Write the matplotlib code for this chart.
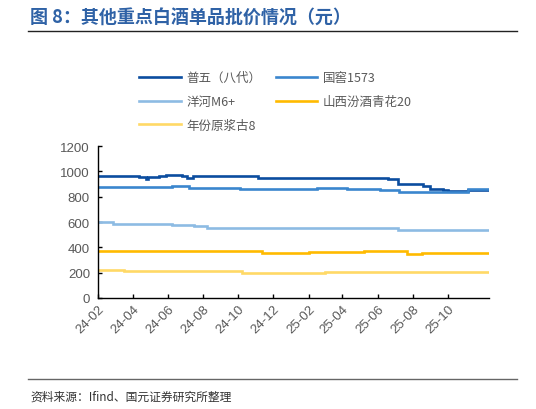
import numpy as np
import pandas as pd
import matplotlib
matplotlib.use('Agg')
import matplotlib.pyplot as plt
import matplotlib.dates as mdates
from matplotlib.lines import Line2D

plt.rcParams['font.family'] = ['Liberation Sans', 'Noto Sans CJK SC', 'DejaVu Sans']

# change points of each weekly price series (yuan)
wuliangye_dates = ['2024-02-01', '2024-04-12', '2024-04-24', '2024-04-28', '2024-05-17',
                   '2024-05-29', '2024-06-26', '2024-07-05', '2024-07-14', '2024-11-05',
                   '2025-06-19', '2025-07-06', '2025-08-19', '2025-09-01', '2025-09-23',
                   '2025-10-01', '2025-11-05', '2025-12-12']
wuliangye = [962, 953, 940, 955, 960, 973, 965, 948, 960, 950,
             940, 902, 882, 860, 852, 847, 852, 852]

guojiao_dates = ['2024-02-01', '2024-06-09', '2024-07-08', '2024-08-08', '2024-10-04',
                 '2025-02-16', '2025-04-08', '2025-06-05', '2025-07-09', '2025-10-23',
                 '2025-11-05', '2025-12-12']
guojiao = [874, 881, 870, 865, 857, 867, 857, 850, 835, 833, 857, 857]

yanghe_dates = ['2024-02-01', '2024-02-26', '2024-06-09', '2024-07-17', '2024-08-08',
                '2025-07-06', '2025-12-12']
yanghe = [600, 588, 573, 566, 550, 540, 540]

fenjiu_dates = ['2024-02-01', '2024-11-12', '2025-02-01', '2025-05-09', '2025-07-23',
                '2025-08-17', '2025-12-02', '2025-12-12']
fenjiu = [374, 357, 367, 372, 347, 358, 355, 355]

gujing_dates = ['2024-02-01', '2024-03-16', '2024-10-08', '2024-11-17', '2025-03-01',
                '2025-12-12']
gujing = [225, 215, 199, 195, 208, 208]

labels = ['普五（八代）', '国窖1573', '洋河M6+', '山西汾酒青花20', '年份原浆古8']
colors = ['#0B4D9F', '#3A86CE', '#8DBBE3', '#FFBA00', '#FFD966']
y_ticks = [0, 200, 400, 600, 800, 1000, 1200]
x_ticks = ['2024-02-01', '2024-04-01', '2024-06-01', '2024-08-01', '2024-10-01',
           '2024-12-01', '2025-02-01', '2025-04-01', '2025-06-01', '2025-08-01',
           '2025-10-01']

series = [(wuliangye_dates, wuliangye), (guojiao_dates, guojiao), (yanghe_dates, yanghe),
          (fenjiu_dates, fenjiu), (gujing_dates, gujing)]

fig = plt.figure(figsize=(5.36, 4.10), dpi=100)
ax = fig.add_axes([98.3 / 536, 1 - 299 / 410, (489 - 98.3) / 536, (299 - 147) / 410])

handles = []
for (d, v), lab, c in zip(series, labels, colors):
    h, = ax.plot(pd.to_datetime(d), v, drawstyle='steps-post', color=c, lw=1.9,
                 solid_joinstyle='miter', label=lab)
    handles.append(h)

ax.set_xlim(pd.Timestamp('2024-02-01'), pd.Timestamp('2025-12-12'))
ax.set_ylim(0, 1200)
ax.set_yticks(y_ticks)
ax.set_xticks(pd.to_datetime(x_ticks))
ax.xaxis.set_major_formatter(mdates.DateFormatter('%y-%m'))

for s in ['top', 'right']:
    ax.spines[s].set_visible(False)
for s in ['left', 'bottom']:
    ax.spines[s].set_linewidth(1.0)
    ax.spines[s].set_color('black')
ax.tick_params(direction='in', length=3, width=1, colors='black',
               labelcolor='#595959', labelsize=9.5)
ax.tick_params(axis='y', pad=6)
plt.setp(ax.get_xticklabels(), rotation=45, ha='right', rotation_mode='anchor')

order = [0, 2, 4, 1, 3]
fig.legend([handles[i] for i in order], [labels[i] for i in order],
           loc='upper left', bbox_to_anchor=(128 / 536, 1 - 61 / 410), ncol=2,
           frameon=False, handlelength=3.3, handletextpad=0.45,
           columnspacing=1.2, labelspacing=0.85, labelcolor='#595959',
           prop={'family': ['Noto Sans CJK SC', 'DejaVu Sans'], 'size': 9})

fig.text(30 / 536, 1 - 17 / 410, '图 8：其他重点白酒单品批价情况（元）', fontsize=13,
         fontweight='bold', color='#2F62A6', va='center', ha='left',
         family=['Noto Sans CJK SC', 'DejaVu Sans'])
fig.add_artist(Line2D([28 / 536, 517 / 536], [1 - 32 / 410, 1 - 32 / 410],
                      color='#222222', lw=1.0))
fig.add_artist(Line2D([28 / 536, 517 / 536], [1 - 380 / 410, 1 - 380 / 410],
                      color='#666666', lw=1.0))
fig.text(30 / 536, 1 - 397 / 410, '资料来源：Ifind、国元证券研究所整理', fontsize=8.5,
         color='#333333', va='center', ha='left',
         family=['Noto Sans CJK SC', 'DejaVu Sans'])

fig.savefig('out.png', dpi=100)
